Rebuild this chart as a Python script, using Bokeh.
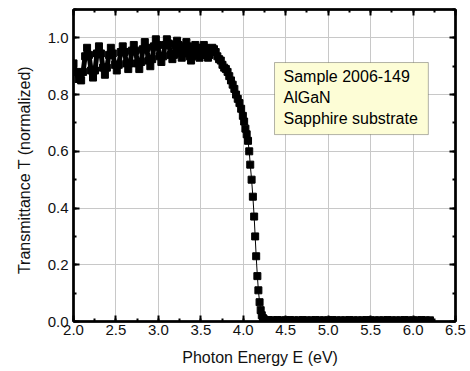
from bokeh.plotting import figure
from bokeh.models import (Range1d, LinearAxis, SingleIntervalTicker, PrintfTickFormatter,
                          CustomJSTickFormatter, Label, BoxAnnotation, ColumnDataSource)
from bokeh.embed import file_html
from bokeh.resources import INLINE

# ---- data ----
energy_fringe = [2.000, 2.030, 2.060, 2.090, 2.113, 2.137, 2.160, 2.183, 2.207, 2.230,
                 2.253, 2.277, 2.300, 2.323, 2.347, 2.370, 2.393, 2.417, 2.440, 2.463,
                 2.487, 2.510, 2.533, 2.557, 2.580, 2.602, 2.623, 2.645, 2.667, 2.688,
                 2.710, 2.732, 2.753, 2.775, 2.797, 2.818, 2.840, 2.862, 2.883, 2.905,
                 2.927, 2.948, 2.970, 2.992, 3.013, 3.035, 3.057, 3.078, 3.100, 3.122,
                 3.143, 3.165, 3.183, 3.202, 3.220, 3.238, 3.257, 3.275, 3.293, 3.312,
                 3.330, 3.348, 3.367, 3.385, 3.402, 3.418, 3.435, 3.452, 3.468, 3.485,
                 3.502, 3.518, 3.535, 3.552, 3.568, 3.585, 3.602, 3.618, 3.635, 3.655]
trans_fringe = [0.910, 0.880, 0.855, 0.850, 0.880, 0.935, 0.965, 0.940, 0.885, 0.860,
                0.885, 0.945, 0.970, 0.945, 0.895, 0.870, 0.895, 0.940, 0.965, 0.945,
                0.905, 0.885, 0.905, 0.950, 0.970, 0.950, 0.910, 0.890, 0.910, 0.955,
                0.975, 0.955, 0.910, 0.890, 0.915, 0.960, 0.985, 0.965, 0.920, 0.900,
                0.925, 0.970, 0.995, 0.975, 0.935, 0.915, 0.935, 0.975, 0.995, 0.980,
                0.940, 0.925, 0.940, 0.975, 0.990, 0.975, 0.945, 0.930, 0.945, 0.970,
                0.985, 0.970, 0.935, 0.920, 0.935, 0.960, 0.975, 0.965, 0.940, 0.930,
                0.940, 0.965, 0.975, 0.965, 0.940, 0.930, 0.940, 0.955, 0.965, 0.960]

energy_edge = [3.675, 3.695, 3.715, 3.735, 3.755, 3.775, 3.795, 3.815, 3.835,
               3.855, 3.875, 3.895, 3.915, 3.935, 3.955, 3.975, 3.995, 4.010, 4.025,
               4.040, 4.056, 4.070, 4.082, 4.098, 4.113, 4.128, 4.140, 4.152, 4.166,
               4.178, 4.192, 4.205, 4.218, 4.232, 4.250, 4.275]
trans_edge = [0.950, 0.935, 0.925, 0.920, 0.905, 0.895, 0.890, 0.880, 0.865,
              0.850, 0.835, 0.820, 0.800, 0.785, 0.770, 0.750, 0.725, 0.705, 0.680,
              0.660, 0.637, 0.600, 0.553, 0.500, 0.440, 0.370, 0.300, 0.230, 0.160,
              0.110, 0.068, 0.040, 0.022, 0.012, 0.007, 0.005]

energy_tail = [4.30, 4.35, 4.40, 4.45, 4.50, 4.55, 4.60, 4.65, 4.70, 4.75,
               4.80, 4.85, 4.90, 4.95, 5.00, 5.05, 5.10, 5.15, 5.20, 5.25,
               5.30, 5.35, 5.40, 5.45, 5.50, 5.55, 5.60, 5.65, 5.70, 5.75,
               5.80, 5.85, 5.90, 5.95, 6.00, 6.05, 6.10, 6.15, 6.20]
trans_tail = [0.005, 0.004, 0.005, 0.004, 0.004, 0.005, 0.004, 0.004, 0.005, 0.004,
              0.004, 0.005, 0.004, 0.004, 0.004, 0.005, 0.004, 0.004, 0.004, 0.005,
              0.004, 0.004, 0.004, 0.005, 0.004, 0.004, 0.004, 0.004, 0.005, 0.004,
              0.004, 0.004, 0.005, 0.004, 0.004, 0.004, 0.005, 0.004, 0.004]

x_ticks_interval = 0.5
y_ticks_interval = 0.2
legend_lines = ["Sample 2006-149", "AlGaN", "Sapphire substrate"]
x_title = "Photon Energy  E  (eV)"
y_title = "Transmittance  T  (normalized)"

energy = energy_fringe + energy_edge + energy_tail
trans = trans_fringe + trans_edge + trans_tail
src = ColumnDataSource(dict(E=energy, T=trans))
src_fringe = ColumnDataSource(dict(E=energy_fringe + energy_edge[:18], T=trans_fringe + trans_edge[:18]))

FONT = "Liberation Sans"

p = figure(frame_width=382, frame_height=312, output_backend="svg", toolbar_location=None,
           x_range=Range1d(2.0, 6.5), y_range=Range1d(0.0, 1.1),
           x_axis_location=None, y_axis_location=None,
           min_border_left=73, min_border_right=15, min_border_top=9, min_border_bottom=50)
p.background_fill_color = "white"
p.border_fill_color = "white"
p.outline_line_color = "black"
p.outline_line_width = 2

xt = SingleIntervalTicker(interval=x_ticks_interval, num_minor_ticks=2)
yt = SingleIntervalTicker(interval=y_ticks_interval, num_minor_ticks=2)

def style(ax, show_labels):
    ax.axis_line_width = 2.5
    ax.axis_line_color = "black"
    ax.major_tick_in = 6
    ax.major_tick_out = 0
    ax.minor_tick_in = 3
    ax.minor_tick_out = 0
    ax.major_tick_line_width = 2
    ax.minor_tick_line_width = 2
    ax.major_tick_line_color = "black"
    ax.minor_tick_line_color = "black"
    if show_labels:
        ax.formatter = PrintfTickFormatter(format="%.1f")
        ax.major_label_text_font = FONT
        ax.major_label_text_font_size = "15px"
        ax.major_label_text_color = "#111111"
        ax.axis_label_text_font = FONT
        ax.axis_label_text_font_size = "16px"
        ax.axis_label_text_font_style = "normal"
        ax.axis_label_text_color = "#111111"
    else:
        ax.formatter = CustomJSTickFormatter(code="return ''")
        ax.major_label_standoff = 0

xb = LinearAxis(ticker=xt, axis_label=x_title); style(xb, True)
xb.major_label_standoff = 3
xb.axis_label_standoff = 11
yl = LinearAxis(ticker=yt, axis_label=y_title); style(yl, True)
yl.major_label_standoff = 5
yl.axis_label_standoff = 12
xa = LinearAxis(ticker=xt); style(xa, False)
yr = LinearAxis(ticker=yt); style(yr, False)
p.add_layout(xb, "below")
p.add_layout(yl, "left")
p.add_layout(xa, "above")
p.add_layout(yr, "right")

p.xgrid.ticker = xt
p.ygrid.ticker = yt
p.xgrid.grid_line_color = "#c8c8c8"
p.ygrid.grid_line_color = "#c8c8c8"
p.xgrid.grid_line_width = 1
p.ygrid.grid_line_width = 1

p.line("E", "T", source=src, line_color="black", line_width=1)
p.line("E", "T", source=src_fringe, line_color="black", line_width=5)
p.scatter("E", "T", source=src, marker="square", size=7, fill_color="black", line_color="black")

# legend-like text box
box = BoxAnnotation(left=4.368, right=6.18, bottom=0.659, top=0.913,
                    fill_color="#fdfdd6", fill_alpha=1.0, line_color="black", line_width=1)
p.add_layout(box)
for txt, yy in zip(legend_lines, [0.864, 0.790, 0.716]):
    p.add_layout(Label(x=4.474, y=yy, text=txt, text_font=FONT, text_font_size="16px",
                       text_baseline="middle", text_align="left", text_color="black"))

open("out.html", "w").write(file_html(p, INLINE))
